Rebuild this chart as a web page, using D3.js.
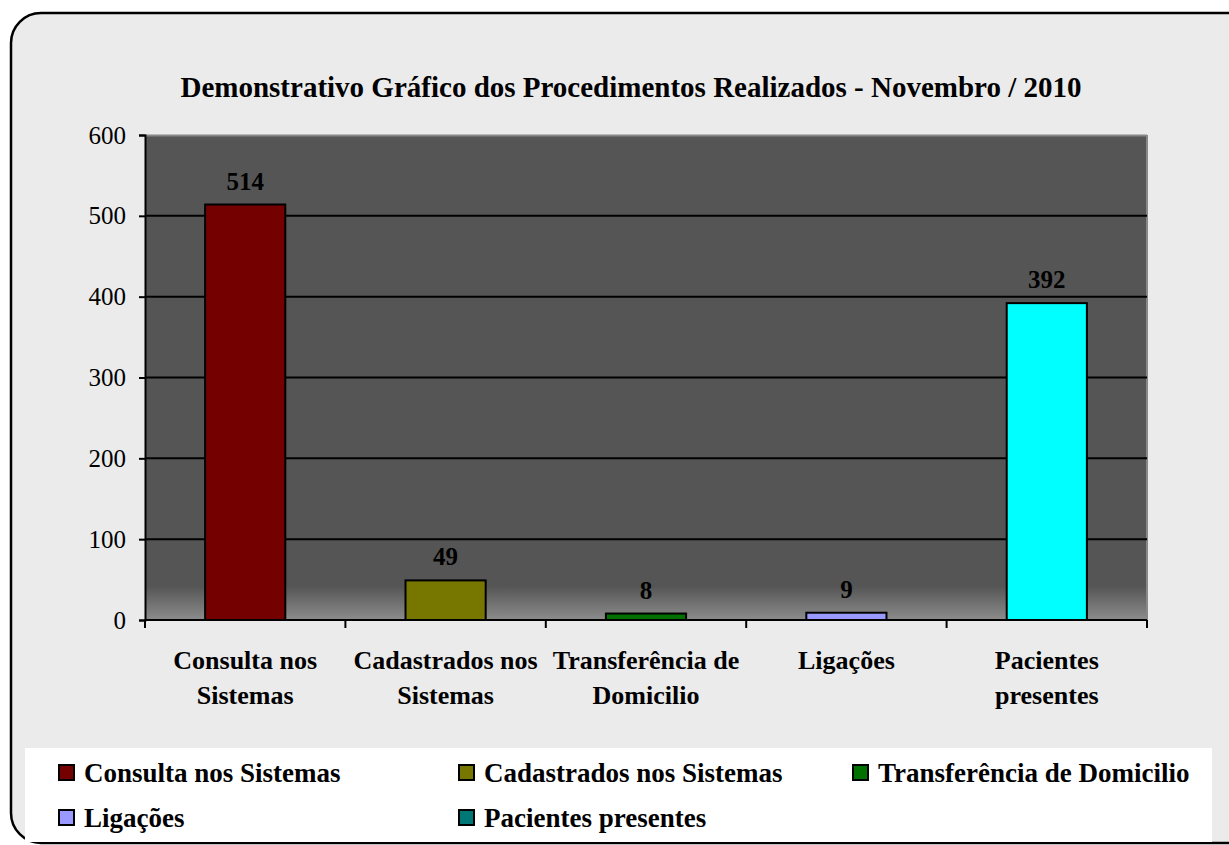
<!DOCTYPE html>
<html>
<head>
<meta charset="utf-8">
<script src="https://cdn.jsdelivr.net/npm/d3@7"></script>
<style>
  body { margin: 0; background: #ffffff; }
  text { font-family: "Liberation Serif", "Times New Roman", serif; }
</style>
</head>
<body>
<div id="chart"></div>
<script>
// Chart data
let categories = ["Consulta nos Sistemas", "Cadastrados nos Sistemas", "Transferência de Domicilio", "Ligações", "Pacientes presentes"];
let axisLabels = [["Consulta nos", "Sistemas"], ["Cadastrados nos", "Sistemas"], ["Transferência de", "Domicilio"], ["Ligações"], ["Pacientes", "presentes"]];
let values = [514, 49, 8, 9, 392];
let barColors = ["#750000", "#777700", "#007000", "#9999ff", "#00ffff"];
let legendColors = ["#750000", "#777700", "#007000", "#9999ff", "#007777"];
let yTicks = [0, 100, 200, 300, 400, 500, 600];
let title = "Demonstrativo Gráfico dos Procedimentos Realizados - Novembro / 2010";

let svgWidth = 1229;
let svgHeight = 845;

let margin = { top: 135, right: 82, bottom: 225, left: 145 };
let width = svgWidth - margin.left - margin.right;
let height = svgHeight - margin.top - margin.bottom;

let svg = d3.select("#chart")
  .append("svg")
  .attr("width", svgWidth)
  .attr("height", svgHeight);

let defs = svg.append("defs");
let grad = defs.append("linearGradient")
  .attr("id", "plotGrad")
  .attr("x1", 0).attr("y1", 0).attr("x2", 0).attr("y2", 1);
grad.append("stop").attr("offset", "0%").attr("stop-color", "#555555");
grad.append("stop").attr("offset", "93%").attr("stop-color", "#555555");
grad.append("stop").attr("offset", "100%").attr("stop-color", "#8c8c8c");

// Outer frame
svg.append("rect")
  .attr("x", 11).attr("y", 13)
  .attr("width", 1250).attr("height", 830)
  .attr("rx", 30).attr("ry", 30)
  .attr("fill", "#ebebeb")
  .attr("stroke", "#000")
  .attr("stroke-width", 2.5);

// Title
svg.append("text")
  .attr("x", 631).attr("y", 97)
  .attr("text-anchor", "middle")
  .attr("font-size", "29px")
  .attr("font-weight", "bold")
  .text(title);

let chartGroup = svg.append("g")
  .attr("transform", `translate(${margin.left}, ${margin.top})`);

let xScale = d3.scaleBand()
  .domain(categories)
  .range([0, width])
  .paddingInner(0.6)
  .paddingOuter(0.3);

let yScale = d3.scaleLinear()
  .domain([0, 600])
  .range([height, 0]);

// Plot background
chartGroup.append("rect")
  .attr("width", width).attr("height", height)
  .attr("fill", "url(#plotGrad)");
chartGroup.append("line")
  .attr("x1", 0).attr("x2", width).attr("y1", 0.5).attr("y2", 0.5)
  .attr("stroke", "#888").attr("stroke-width", 2);
chartGroup.append("line")
  .attr("x1", width).attr("x2", width).attr("y1", 0).attr("y2", height)
  .attr("stroke", "#888").attr("stroke-width", 2);

// Gridlines
chartGroup.selectAll(".grid")
  .data(yTicks.filter(d => d > 0 && d < 600))
  .enter()
  .append("line")
  .attr("x1", 0).attr("x2", width)
  .attr("y1", d => yScale(d)).attr("y2", d => yScale(d))
  .attr("stroke", "#000").attr("stroke-width", 2);

// Bars
chartGroup.selectAll(".bar")
  .data(values)
  .enter()
  .append("rect")
  .attr("x", (d, i) => xScale(categories[i]))
  .attr("y", d => yScale(d))
  .attr("width", xScale.bandwidth())
  .attr("height", d => height - yScale(d))
  .attr("fill", (d, i) => barColors[i])
  .attr("stroke", "#000")
  .attr("stroke-width", 2);

// Value labels
chartGroup.selectAll(".val")
  .data(values)
  .enter()
  .append("text")
  .attr("x", (d, i) => xScale(categories[i]) + xScale.bandwidth() / 2)
  .attr("y", d => yScale(d) - 15)
  .attr("text-anchor", "middle")
  .attr("font-size", "25px")
  .attr("font-weight", "bold")
  .text(d => d);

// Y axis
let leftAxis = d3.axisLeft(yScale).tickValues(yTicks).tickSize(6).tickPadding(13);
let yAxis = chartGroup.append("g").call(leftAxis);
yAxis.select(".domain").attr("stroke", "#000").attr("stroke-width", 2);
yAxis.selectAll(".tick line").attr("stroke", "#000").attr("stroke-width", 2);
yAxis.selectAll(".tick text")
  .attr("font-size", "25px")
  .attr("font-family", "Liberation Serif, serif")
  .attr("fill", "#000");

// X axis
let step = width / categories.length;
let xAxis = chartGroup.append("g").attr("transform", `translate(0, ${height})`);
xAxis.append("line")
  .attr("x1", 0).attr("x2", width).attr("y1", 0).attr("y2", 0)
  .attr("stroke", "#000").attr("stroke-width", 2);
xAxis.selectAll(".xtick")
  .data(d3.range(categories.length + 1))
  .enter()
  .append("line")
  .attr("x1", d => d * step).attr("x2", d => d * step)
  .attr("y1", 0).attr("y2", 8)
  .attr("stroke", "#000").attr("stroke-width", 2);

let xLabels = xAxis.selectAll(".xlab")
  .data(axisLabels)
  .enter()
  .append("text")
  .attr("text-anchor", "middle")
  .attr("font-size", "26px")
  .attr("font-weight", "bold")
  .attr("transform", (d, i) => `translate(${xScale(categories[i]) + xScale.bandwidth() / 2}, 49)`);
xLabels.selectAll("tspan")
  .data(d => d)
  .enter()
  .append("tspan")
  .attr("x", 0)
  .attr("dy", (d, i) => i === 0 ? 0 : 35)
  .text(d => d);

// Legend
let legend = svg.append("g");
legend.append("rect")
  .attr("x", 25).attr("y", 748)
  .attr("width", 1187).attr("height", 94)
  .attr("fill", "#ffffff");

let legendPos = [[59, 773], [459, 773], [853, 773], [59, 818], [459, 818]];
let items = legend.selectAll(".item")
  .data(categories)
  .enter()
  .append("g")
  .attr("transform", (d, i) => `translate(${legendPos[i][0]}, ${legendPos[i][1]})`);
items.append("rect")
  .attr("x", 0).attr("y", -8)
  .attr("width", 15).attr("height", 15)
  .attr("fill", (d, i) => legendColors[i])
  .attr("stroke", "#000")
  .attr("stroke-width", 2);
items.append("text")
  .attr("x", 25).attr("y", 9)
  .attr("font-size", "27px")
  .attr("font-weight", "bold")
  .text(d => d);
</script>
</body>
</html>
